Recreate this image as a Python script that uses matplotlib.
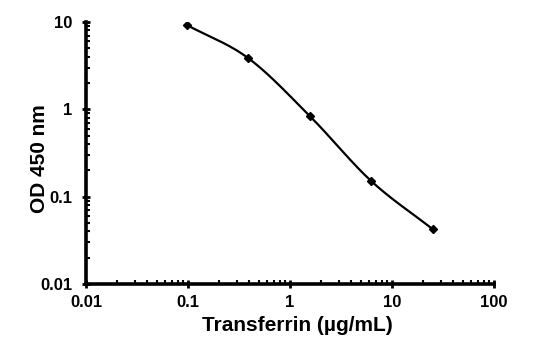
import numpy as np
import matplotlib
matplotlib.use("Agg")
import matplotlib.pyplot as plt
from matplotlib.ticker import LogLocator, NullFormatter, FixedLocator, FixedFormatter

# Transferrin standard curve (4-fold dilutions)
conc = [0.098, 0.39, 1.56, 6.25, 25.0]
od450 = [9.2, 3.85, 0.84, 0.151, 0.0425]

x_ticks = [0.01, 0.1, 1, 10, 100]
x_labels = ["0.01", "0.1", "1", "10", "100"]
y_ticks = [0.01, 0.1, 1, 10]
y_labels = ["0.01", "0.1", "1", "10"]


def smooth_loglog(x, y, n=40):
    """Catmull-Rom curve through the points in log-log space."""
    lx, ly = np.log10(x), np.log10(y)
    px = np.concatenate([[2 * lx[0] - lx[1]], lx, [2 * lx[-1] - lx[-2]]])
    py = np.concatenate([[2 * ly[0] - ly[1]], ly, [2 * ly[-1] - ly[-2]]])
    xs, ys = [], []
    t = np.linspace(0, 1, n)
    for i in range(1, len(px) - 2):
        for p, out in ((px, xs), (py, ys)):
            p0, p1, p2, p3 = p[i - 1], p[i], p[i + 1], p[i + 2]
            out.append(0.5 * (2 * p1 + (-p0 + p2) * t
                              + (2 * p0 - 5 * p1 + 4 * p2 - p3) * t ** 2
                              + (-p0 + 3 * p1 - 3 * p2 + p3) * t ** 3))
    return 10 ** np.concatenate(xs), 10 ** np.concatenate(ys)


plt.rcParams["font.family"] = ["Liberation Sans", "DejaVu Sans"]
plt.rcParams["font.weight"] = "bold"

fig = plt.figure(figsize=(5.6, 3.4), dpi=100)
ax = fig.add_axes([0.1536, 0.1647, 0.7286, 0.7706])

cx, cy = smooth_loglog(conc, od450)
ax.plot(cx, cy, color="black", lw=1.6, solid_capstyle="round")
ax.plot(conc, od450, linestyle="none", marker="D", color="black", markersize=4.5)

ax.set_xscale("log")
ax.set_yscale("log")
ax.set_xlim(0.01, 100)
ax.set_ylim(0.01, 10)

ax.xaxis.set_major_locator(FixedLocator(x_ticks))
ax.xaxis.set_major_formatter(FixedFormatter(x_labels))
ax.yaxis.set_major_locator(FixedLocator(y_ticks))
ax.yaxis.set_major_formatter(FixedFormatter(y_labels))
for axis in (ax.xaxis, ax.yaxis):
    axis.set_minor_locator(LogLocator(base=10, subs=np.arange(2, 10)))
    axis.set_minor_formatter(NullFormatter())

ax.spines["top"].set_visible(False)
ax.spines["right"].set_visible(False)
for s in ("left", "bottom"):
    ax.spines[s].set_linewidth(2.6)

ax.tick_params(which="major", direction="inout", length=6, width=2, labelsize=12)
ax.tick_params(axis="y", which="major", pad=7)
ax.tick_params(axis="x", which="major", pad=5)
ax.tick_params(which="minor", direction="in", length=3, width=1.5)

ax.set_xlabel("Transferrin (µg/mL)", fontsize=15, fontweight="bold")
ax.set_ylabel("OD 450 nm", fontsize=15, fontweight="bold")
ax.xaxis.set_label_coords(0.517, -0.16)
ax.yaxis.set_label_coords(-0.113, 0.477)
ax.xaxis.label.set_va("center")
ax.yaxis.label.set_va("center")

fig.savefig("out.png", dpi=100)
